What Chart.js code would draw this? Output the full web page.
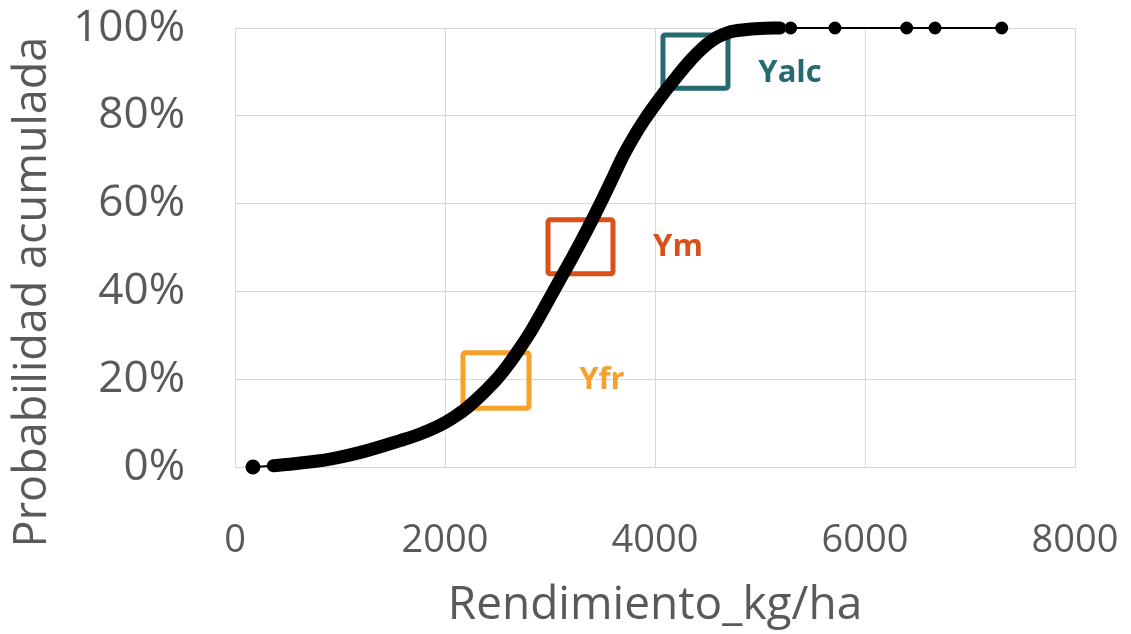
<!DOCTYPE html>
<html>
<head>
<meta charset="utf-8">
<script src="https://cdn.jsdelivr.net/npm/chart.js@4/dist/chart.umd.min.js"></script>
<style>
html,body{margin:0;padding:0;background:#fff;}
#wrap{width:1131px;height:634px;}
</style>
</head>
<body>
<div id="wrap"><canvas id="c" width="1131" height="634"></canvas></div>
<script>
// Cumulative probability curve (yield kg/ha vs cumulative %)
const yieldKg = [365, 587, 905, 1222, 1571, 1750, 1900, 2000, 2100, 2200, 2300, 2400, 2500, 2600, 2700, 2800, 2900, 3000, 3100, 3200, 3300, 3400, 3500, 3600, 3700, 3800, 3900, 4000, 4100, 4200, 4300, 4400, 4500, 4600, 4700, 4850, 5000, 5190];
const cumProb = [0.3, 0.8, 1.8, 3.5, 6.0, 7.4, 8.9, 10.1, 11.6, 13.3, 15.4, 17.7, 20.2, 23.2, 26.6, 30.2, 34.3, 38.6, 42.9, 47.2, 51.6, 56.2, 61.0, 66.0, 71.0, 75.3, 79.1, 82.5, 85.7, 88.7, 91.6, 94.2, 96.4, 98.0, 99.0, 99.6, 99.9, 100];
// Isolated low point and high-end outliers
const lowKg = [171, 365];
const lowProb = [0, 0.3];
const highKg = [5190, 5292, 5714, 6397, 6667, 7302];
const highProb = [100, 100, 100, 100, 100, 100];
// Axis ticks
const xTicks = [0, 2000, 4000, 6000, 8000];
const yTicks = [0, 20, 40, 60, 80, 100];
// Highlight boxes (data coordinates) and labels
const boxNames = ['Yfr', 'Ym', 'Yalc'];
const boxColors = ['#F7A12C', '#DA5018', '#256A70'];
const boxX = [[2171, 2800], [2981, 3600], [4076, 4695]];
const boxY = [[13.4, 26.0], [44.0, 56.3], [86.3, 98.4]];
const labelX = [3495, 4219, 5286];
const labelY = [19.8, 50.1, 89.8];
const yTitle = 'Probabilidad acumulada';
const xTitle = 'Rendimiento_kg/ha';

const toPts = (xs, ys) => xs.map((x, i) => ({x: x, y: ys[i]}));

const boxPlugin = {
  id: 'boxes',
  beforeDatasetsDraw(chart) {
    const {ctx, scales: {x, y}} = chart;
    ctx.save();
    boxNames.forEach((n, i) => {
      const x0 = x.getPixelForValue(boxX[i][0]), x1 = x.getPixelForValue(boxX[i][1]);
      const y0 = y.getPixelForValue(boxY[i][1]), y1 = y.getPixelForValue(boxY[i][0]);
      ctx.strokeStyle = boxColors[i];
      ctx.lineWidth = 5;
      ctx.lineJoin = 'round';
      ctx.beginPath();
      ctx.roundRect(x0, y0, x1 - x0, y1 - y0, 2);
      ctx.stroke();
    });
    ctx.restore();
  },
  afterDatasetsDraw(chart) {
    const {ctx, scales: {x, y}} = chart;
    ctx.save();
    ctx.font = 'bold 31px "Open Sans", sans-serif';
    ctx.textAlign = 'center';
    ctx.textBaseline = 'middle';
    boxNames.forEach((n, i) => {
      ctx.fillStyle = boxColors[i];
      ctx.fillText(n, x.getPixelForValue(labelX[i]), y.getPixelForValue(labelY[i]));
    });
    ctx.restore();
  },
  afterDraw(chart) {
    const {ctx} = chart;
    ctx.save();
    ctx.translate(33, 292);
    ctx.rotate(-Math.PI / 2);
    ctx.font = '45px "Open Sans", sans-serif';
    ctx.fillStyle = '#595959';
    ctx.textAlign = 'center';
    ctx.textBaseline = 'middle';
    ctx.fillText(yTitle, 0, 0);
    ctx.restore();
  }
};

new Chart(document.getElementById('c'), {
  type: 'scatter',
  data: {
    datasets: [
      {
        data: toPts(yieldKg, cumProb),
        showLine: true,
        borderColor: '#000',
        backgroundColor: '#000',
        borderWidth: 13,
        pointRadius: 0,
        cubicInterpolationMode: 'monotone',
        borderCapStyle: 'round',
        borderJoinStyle: 'round',
        clip: 12
      },
      {
        data: toPts(lowKg, lowProb),
        showLine: true,
        borderColor: '#000',
        backgroundColor: '#000',
        borderWidth: 2,
        pointRadius: [6.5, 0],
        clip: 12
      },
      {
        data: toPts(highKg, highProb),
        showLine: true,
        borderColor: '#000',
        backgroundColor: '#000',
        borderWidth: 2,
        pointRadius: [0, 5.5, 5.5, 5.5, 5.5, 5.5],
        clip: 12
      }
    ]
  },
  options: {
    responsive: false,
    animation: false,
    events: [],
    layout: {padding: {top: 28, right: 56, left: 0, bottom: 0}},
    plugins: {legend: {display: false}, tooltip: {enabled: false}},
    scales: {
      x: {
        type: 'linear',
        min: 0, max: 8000,
        afterBuildTicks(s) { s.ticks = xTicks.map(v => ({value: v})); },
        afterFit(s) { s.height = 167; s.paddingLeft = 0; s.paddingRight = 0; },
        grid: {color: '#D9D9D9', lineWidth: 1, drawTicks: false},
        border: {color: '#D9D9D9'},
        ticks: {color: '#595959', font: {family: 'Open Sans', size: 38}, padding: 51, maxRotation: 0, callback: v => String(v)},
        title: {display: true, text: xTitle, color: '#595959', font: {family: 'Open Sans', size: 46}, padding: {top: 0, bottom: 1}}
      },
      y: {
        type: 'linear',
        min: 0, max: 100,
        afterBuildTicks(s) { s.ticks = yTicks.map(v => ({value: v})); },
        afterFit(s) { s.width = 235; s.paddingTop = 0; s.paddingBottom = 0; },
        grid: {color: '#D9D9D9', lineWidth: 1, drawTicks: false},
        border: {color: '#D9D9D9'},
        ticks: {color: '#595959', font: {family: 'Open Sans', size: 44}, padding: 50, callback: v => v + '%'},
        title: {display: false}
      }
    }
  },
  plugins: [boxPlugin]
});
</script>
</body>
</html>
